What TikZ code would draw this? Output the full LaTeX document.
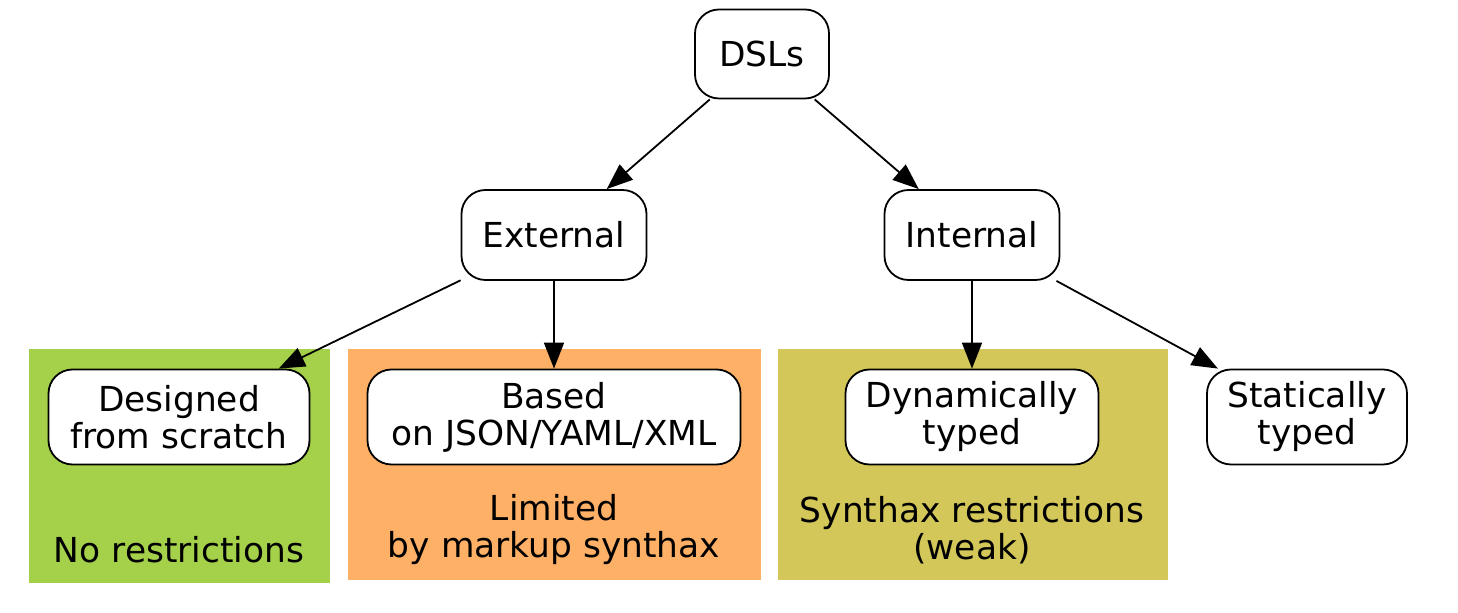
\documentclass[tikz,border=0pt]{standalone}
\usepackage{fontspec}
\setmainfont{DejaVu Sans}
\usetikzlibrary{arrows.meta}
\definecolor{greenbox}{RGB}{165,209,74}
\definecolor{orangebox}{RGB}{254,176,102}
\definecolor{olivebox}{RGB}{211,199,90}
\tikzset{
  kind/.style={draw, line width=0.9pt, rounded corners=12pt, fill=white,
               align=center, inner sep=0pt, minimum height=45pt},
  twoline/.style={kind, minimum height=47.5pt},
  note/.style={align=center, inner sep=0pt},
  arc/.style={-{Triangle[length=13pt,width=10pt]}, line width=0.9pt}
}
\begin{document}
\begin{tikzpicture}
[x=0.5pt, y=-0.5pt,
 every node/.append style={font=\fontsize{17.2}{18.5}\selectfont}]
\useasboundingbox (0,0) rectangle (1458,613);
% groups
\fill[greenbox]  (29,349)  rectangle (330,583);
\fill[orangebox] (348,349) rectangle (761,580);
\fill[olivebox]  (778,349) rectangle (1168,580);
\node[note] (free)   at (179,550) {No restrictions};
\node[note] (markup) at (554,530) {Limited\\by markup synthax};
\node[note] (syntax) at (972,530) {Synthax restrictions\\(weak)};
% tree
\node[kind, minimum width=67pt, minimum height=44.5pt] (dsls) at (762,54) {DSLs};
\node[kind, minimum width=92.5pt] (external) at (554,235) {External};
\node[kind, minimum width=87.5pt] (internal) at (972,235) {Internal};
\node[twoline, minimum width=130.5pt] (scratch) at (179,417) {Designed\\from scratch};
\node[twoline, minimum width=186.5pt] (based) at (554,417) {Based\\on JSON/YAML/XML};
\node[twoline, minimum width=126.5pt] (dynamic) at (972,417) {Dynamically\\typed};
\node[twoline, minimum width=100pt] (static) at (1307,417) {Statically\\typed};
\draw[arc] (dsls) -- (external);
\draw[arc] (dsls) -- (internal);
\draw[arc] (external) -- (scratch);
\draw[arc] (external) -- (based);
\draw[arc] (internal) -- (dynamic);
\draw[arc] (internal) -- (static);
\end{tikzpicture}
\end{document}
